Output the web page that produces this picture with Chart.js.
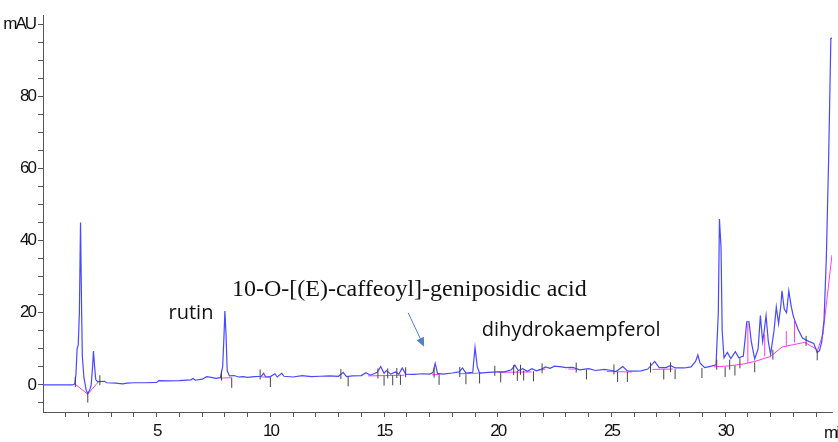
<!DOCTYPE html>
<html>
<head>
<meta charset="utf-8">
<script src="https://cdn.jsdelivr.net/npm/chart.js@4/dist/chart.umd.min.js"></script>
<style>
    html, body { margin: 0; padding: 0; background: #fff; }
    #wrap { width: 838px; height: 442px; }
</style>
</head>
<body>
<div id="wrap"><canvas id="chrom"></canvas></div>
<script>
// 色谱图数据 (时间 min, 吸光度 mAU)
const traceTime = [0, 1.3, 1.4, 1.45, 1.5, 1.55, 1.6, 1.65, 1.7, 1.73, 1.8, 1.9, 1.97, 2.05, 2.12, 2.18, 2.22, 2.27, 2.32, 2.4,
    2.7, 2.8, 3.2, 3.5, 3.7, 4.0, 4.5, 5.0, 5.1, 5.5, 6.0, 6.5, 6.6, 6.7, 7.0, 7.2, 7.4, 7.6, 7.8, 7.9,
    7.95, 8.0, 8.05, 8.1, 8.2, 8.4, 8.6, 8.8, 9.0, 9.3, 9.6, 9.7, 9.8, 10.0, 10.2, 10.3, 10.5, 10.6, 11.0, 11.4,
    11.8, 12.2, 12.6, 13.0, 13.2, 13.35, 13.6, 14.0, 14.2, 14.4, 14.7, 14.85, 15.0, 15.1, 15.3, 15.5, 15.65, 15.8, 15.95, 16.3,
    16.7, 17.0, 17.15, 17.25, 17.35, 17.6, 18.0, 18.3, 18.45, 18.6, 18.9, 19.0, 19.1, 19.2, 19.6, 20.0, 20.3, 20.6, 20.75, 20.9,
    21.1, 21.3, 21.5, 21.7, 21.9, 22.1, 22.3, 22.5, 22.8, 23.0, 23.3, 23.6, 24.0, 24.3, 24.7, 25.0, 25.2, 25.5, 25.7, 26.0,
    26.3, 26.6, 26.9, 27.1, 27.4, 27.6, 27.8, 28.2, 28.5, 28.7, 28.8, 28.9, 29.1, 29.4, 29.6, 29.7, 29.75, 29.82, 29.87, 29.95,
    30.1, 30.25, 30.45, 30.6, 30.8, 30.9, 30.95, 31.05, 31.15, 31.3, 31.45, 31.55, 31.65, 31.72, 31.8, 31.9, 32.0, 32.15, 32.25, 32.35,
    32.45, 32.5, 32.6, 32.7, 32.8, 32.9, 33.0, 33.2, 33.4, 33.7, 33.9, 34.05, 34.15, 34.25, 34.35, 34.45, 34.55, 34.65, 34.8];
const traceMau = [0, 0, 0.3, 3, 10, 11, 20, 45, 20, 8, 2, -1.5, -2.3, -1.5, 0, 5, 9.4, 5, 1.5, 0.9,
    1, 0.6, 0.5, 0.3, 0.5, 0.6, 0.6, 0.7, 1.2, 1.1, 1.2, 1.4, 1.8, 1.3, 1.6, 2.3, 2.1, 1.8, 2.0, 5,
    12, 20.5, 14, 4, 2.5, 2.6, 2.2, 2.3, 2.1, 2.3, 2.4, 3.2, 2.2, 2.3, 3.1, 2.2, 3.2, 2.4, 2.2, 2.6,
    2.3, 2.4, 2.5, 2.4, 3.5, 2.3, 2.5, 2.6, 3.4, 2.7, 3.5, 5.1, 3.2, 4.0, 3.0, 3.6, 3.0, 4.7, 3.0, 2.9,
    3.1, 3.0, 3.4, 6.0, 3.2, 3.0, 3.3, 3.6, 4.7, 3.3, 3.5, 10.4, 5, 3.3, 3.5, 3.6, 3.6, 4.2, 5.5, 4.0,
    4.5, 3.8, 4.5, 3.9, 4.3, 5.0, 4.6, 5.2, 5.0, 4.8, 4.9, 4.2, 4.5, 4.0, 4.3, 4.0, 3.7, 5.1, 3.9, 3.8,
    3.9, 4.4, 6.5, 4.8, 4.8, 5.4, 4.7, 4.7, 5.0, 6.5, 8.3, 6.0, 4.8, 5.2, 5.6, 20, 46, 38, 15, 7.5,
    9, 7.3, 9.2, 7.5, 8, 14, 17.5, 17.5, 12, 7.2, 10, 19.2, 12, 15, 19.2, 12, 8.5, 15, 21.6, 17,
    22, 26.1, 21, 20, 26.1, 22, 19, 15.5, 13, 12, 11.5, 9, 9.5, 12, 18, 35, 62, 96, 96];

// 积分基线 (null 断开)
const baseTime = [1.4, 1.97, 2.45, null, 7.8, 8.3, null, 9.6, 10.0, null, 14.3, 15.9, null, 17.1, 17.45, null,
    18.3, 19.3, null, 20.0, 21.5, null, 21.8, 22.1, null, 23.1, 23.5, null, 24.8, 25.9, null, 26.8, 27.7, null,
    29.5, 30.2, 30.8, 31.3, 32.0, 32.5, 33.5, 34.07, 34.3, 34.5, 34.7];
const baseMau = [0.3, -2.6, 1.0, null, 1.9, 2.0, null, 2.2, 2.2, null, 2.5, 2.7, null, 2.8, 2.9, null,
    3.1, 3.3, null, 3.5, 3.6, null, 4.2, 4.4, null, 4.4, 4.4, null, 3.7, 3.6, null, 4.3, 4.4, null,
    5.0, 5.3, 5.8, 6.5, 7.9, 10.5, 11.8, 9.7, 14, 25, 36];

// 峰分割线
const dropTime = [31.0, 31.74, 32.69, 33.05];
const dropLow = [6.0, 7.9, 10.6, 11.8];
const dropHigh = [17.0, 14.0, 14.9, 17.7];

// 峰起止标记
const markTime = [1.42, 1.97, 2.5, 7.85, 8.3, 9.55, 10.0, 13.1, 13.42, 14.73, 15.0, 15.16, 15.38, 15.56, 15.72, 15.95,
    17.2, 17.42, 18.33, 18.6, 19.2, 19.87, 20.13, 20.7, 20.86, 21.0, 21.14, 21.57, 21.95, 23.45, 23.9, 25.11, 25.27,
    25.7, 26.72, 27.3, 27.6, 27.8, 28.98, 29.63, 30.0, 30.2, 30.43, 30.65, 31.3, 32.1, 33.56, 34.05];
const markMau = [0.8, -3.5, 1.3, 2.6, 0.6, 2.9, 0.8, 3.0, 1.0, 3.2, 1.2, 3.2, 1.3, 3.3, 1.4, 3.5,
    3.4, 1.4, 3.6, 1.6, 1.8, 3.9, 2.1, 4.1, 2.5, 4.2, 2.6, 2.4, 4.6, 4.8, 2.9, 4.3, 2.2,
    2.2, 4.8, 2.9, 4.9, 3.0, 3.3, 5.6, 3.6, 5.6, 4.0, 6.0, 4.9, 8.4, 12.2, 8.2];

// 坐标刻度
const xTicks = [1, 2, 3, 4, 5, 6, 7, 8, 9, 10, 11, 12, 13, 14, 15, 16, 17, 18, 19, 20,
    21, 22, 23, 24, 25, 26, 27, 28, 29, 30, 31, 32, 33, 34];
const yTicks = [-5, 0, 5, 10, 15, 20, 25, 30, 35, 40, 45, 50, 55, 60, 65, 70, 75, 80, 85, 90, 95, 100];
const yUnit = 'mAU';
const xUnit = 'min';

// 标注
const noteRutin = 'rutin';
const noteCaffeoyl = '10-O-[(E)-caffeoyl]-geniposidic acid';
const noteDihydro = 'dihydrokaempferol';

const toPoints = (xs, ys) => xs.map((x, i) => ({ x: x, y: x === null ? null : ys[i] }));

const dropPoints = [];
dropTime.forEach((t, i) => {
    dropPoints.push({ x: t, y: dropLow[i] }, { x: t, y: dropHigh[i] }, { x: t, y: null });
});

const axisColor = '#555';
const tickFont = { family: "'Liberation Sans', Arial, sans-serif", size: 17 };

// 刻度文字紧缩一点
const squeezePlugin = {
    id: 'squeeze',
    beforeDraw(chart) {
        chart.ctx.letterSpacing = '-2px';
    }
};

// 标注和箭头
const notesPlugin = {
    id: 'notes',
    afterDatasetsDraw(chart) {
        const ctx = chart.ctx;
        const xs = chart.scales.x;
        const ys = chart.scales.y;
        ctx.save();
        ctx.letterSpacing = '0px';
        ctx.fillStyle = '#111';
        ctx.textBaseline = 'alphabetic';
        ctx.textAlign = 'left';

        ctx.font = "20px 'Open Sans', Lato, sans-serif";
        ctx.fillText(noteRutin, xs.getPixelForValue(5.52), ys.getPixelForValue(18.3));
        ctx.fillText(noteDihydro, xs.getPixelForValue(19.3), ys.getPixelForValue(13.6));

        ctx.font = "24px 'Liberation Serif', 'Times New Roman', serif";
        ctx.fillText(noteCaffeoyl, xs.getPixelForValue(8.31), ys.getPixelForValue(24.7));

        // 箭头
        const x1 = xs.getPixelForValue(16.06), y1 = ys.getPixelForValue(20.0);
        const x2 = xs.getPixelForValue(16.76), y2 = ys.getPixelForValue(10.6);
        const ang = Math.atan2(y2 - y1, x2 - x1);
        ctx.strokeStyle = '#4f81c4';
        ctx.fillStyle = '#4f81c4';
        ctx.lineWidth = 1;
        ctx.beginPath();
        ctx.moveTo(x1, y1);
        ctx.lineTo(x2 - 6 * Math.cos(ang), y2 - 6 * Math.sin(ang));
        ctx.stroke();
        ctx.beginPath();
        ctx.moveTo(x2, y2);
        ctx.lineTo(x2 - 9 * Math.cos(ang) + 4 * Math.sin(ang), y2 - 9 * Math.sin(ang) - 4 * Math.cos(ang));
        ctx.lineTo(x2 - 9 * Math.cos(ang) - 4 * Math.sin(ang), y2 - 9 * Math.sin(ang) + 4 * Math.cos(ang));
        ctx.closePath();
        ctx.fill();

        // x 轴单位
        ctx.letterSpacing = '-2px';
        ctx.fillStyle = '#111';
        ctx.font = tickFont.size + 'px ' + tickFont.family;
        ctx.textBaseline = 'middle';
        ctx.fillText(xUnit, xs.getPixelForValue(34.35), xs.bottom - 9);
        ctx.restore();
    }
};

new Chart(document.getElementById('chrom'), {
    type: 'line',
    data: {
        datasets: [{
            data: toPoints(traceTime, traceMau),
            borderColor: '#4848ff',
            borderWidth: 1.2,
            pointRadius: 0,
            tension: 0,
            order: 1
        }, {
            data: toPoints(baseTime, baseMau),
            borderColor: '#ff3cf0',
            borderWidth: 1,
            pointRadius: 0,
            spanGaps: false,
            order: 2
        }, {
            data: dropPoints,
            borderColor: '#ff3cf0',
            borderWidth: 1,
            pointRadius: 0,
            spanGaps: false,
            order: 2
        }, {
            type: 'scatter',
            data: toPoints(markTime, markMau),
            pointStyle: 'line',
            rotation: 90,
            radius: 5,
            borderColor: '#444',
            borderWidth: 1,
            order: 0
        }]
    },
    options: {
        responsive: true,
        maintainAspectRatio: false,
        animation: false,
        events: [],
        layout: { padding: { top: 15, right: 0, left: 0, bottom: 0 } },
        plugins: {
            legend: { display: false },
            tooltip: { enabled: false }
        },
        scales: {
            x: {
                type: 'linear',
                min: 0,
                max: 34.7,
                afterBuildTicks: scale => { scale.ticks = xTicks.map(v => ({ value: v })); },
                afterFit: scale => { scale.height = 30; },
                border: { display: true, color: axisColor, width: 1 },
                grid: { drawOnChartArea: false, drawTicks: true, tickLength: 5, color: axisColor },
                ticks: {
                    autoSkip: false,
                    maxRotation: 0,
                    padding: 4,
                    color: '#111',
                    font: tickFont,
                    callback: v => (v % 5 === 0 ? String(v) : '')
                }
            },
            y: {
                min: -7.5,
                max: 102.5,
                afterBuildTicks: scale => { scale.ticks = yTicks.map(v => ({ value: v })); },
                afterFit: scale => { scale.width = 43; },
                border: { display: true, color: axisColor, width: 1 },
                grid: { drawOnChartArea: false, drawTicks: true, tickLength: 5, color: axisColor },
                ticks: {
                    autoSkip: false,
                    padding: 3,
                    color: '#111',
                    font: tickFont,
                    callback: v => (v === 100 ? yUnit : (v % 20 === 0 ? String(v) : ''))
                }
            }
        }
    },
    plugins: [squeezePlugin, notesPlugin]
});
</script>
</body>
</html>
